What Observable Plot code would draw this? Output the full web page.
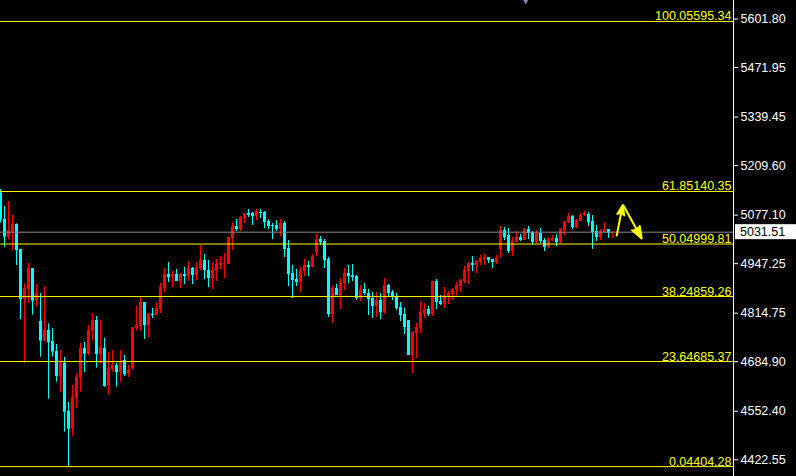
<!DOCTYPE html>
<html><head><meta charset="utf-8">
<script src="https://cdn.jsdelivr.net/npm/d3@7"></script>
<script src="https://cdn.jsdelivr.net/npm/@observablehq/plot@0.6"></script>
<style>html,body{margin:0;padding:0;background:#000;overflow:hidden}</style>
</head><body><div id="chart"></div>
<script>
const opens = [
5135.9,5065.4,5018.2,5031.5,5052.0,4985.2,4850.5,4878.2,4934.3,4846.9,
4792.5,4739.9,4768.5,4739.0,4712.3,4645.4,4681.1,4551.8,4504.5,4587.4,
4640.9,4720.3,4704.3,4766.7,4795.2,4704.3,4720.3,4619.5,4663.2,4674.8,
4656.1,4688.2,4650.8,4665.9,4773.8,4779.2,4843.4,4781.8,4811.3,4808.6,
4824.6,4880.8,4918.3,4910.3,4918.3,4899.6,4918.3,4912.9,4934.3,4915.6,
4934.3,4955.7,4929.0,4907.6,4926.3,4942.4,4945.0,4945.0,5014.6,5046.7,
5038.7,5068.1,5081.5,5081.5,5073.5,5084.2,5084.2,5060.1,5049.4,5049.4,
5038.7,5054.7,4987.8,4921.0,4904.9,4896.9,4926.3,4942.4,4937.0,4977.1,
5011.9,5006.6,4958.4,4811.3,4880.8,4862.1,4894.2,4921.0,4915.6,4912.9,
4854.1,4878.2,4867.5,4854.1,4832.7,4848.7,4816.6,4888.9,4870.1,4859.4,
4830.0,4811.3,4795.2,4701.6,4760.4,4773.8,4813.9,4824.6,4811.3,4899.6,
4846.1,4838.0,4859.4,4864.8,4875.5,4886.2,4899.6,4926.3,4947.7,4942.4,
4950.4,4958.4,4963.8,4958.4,4950.4,4985.2,5036.0,5022.6,4979.8,5003.9,
5017.3,5009.2,5038.7,5030.6,5003.9,5028.0,5009.2,4990.5,5009.2,5014.6,
5003.9,5036.0,5057.4,5073.5,5044.0,5060.1,5076.1,5078.8,5060.1,5033.3,
5017.3,5030.6,5038.7,5030.6];
const highs = [
5145.7,5100.2,5113.6,5076.1,5053.8,4985.2,4893.3,4947.7,4934.3,4891.5,
4867.5,4886.2,4786.3,4773.8,4731.0,4715.0,4696.2,4575.8,4621.3,4653.4,
4733.7,4736.4,4781.8,4813.9,4805.9,4795.2,4747.1,4709.6,4715.0,4681.1,
4715.0,4701.6,4674.8,4776.5,4832.7,4856.8,4843.4,4813.9,4827.3,4843.4,
4894.2,4934.3,4950.4,4926.3,4931.7,4921.0,4937.0,4953.1,4937.0,4950.4,
4995.9,4971.8,4955.7,4950.4,4958.4,4966.4,4974.5,5017.3,5054.7,5065.4,
5073.5,5081.5,5092.2,5084.2,5092.2,5092.2,5086.8,5065.4,5054.7,5062.8,
5065.4,5060.1,5009.2,4942.4,4931.7,4937.0,4958.4,4953.1,4971.8,5025.3,
5019.9,5011.9,4963.8,4888.9,4891.5,4907.6,4934.3,4942.4,4945.0,4915.6,
4888.9,4894.2,4878.2,4870.1,4870.1,4867.5,4907.6,4891.5,4875.5,4867.5,
4843.4,4827.3,4795.2,4765.8,4787.2,4846.1,4840.7,4832.7,4899.6,4904.9,
4862.1,4883.5,4872.8,4880.8,4896.9,4904.9,4939.7,4950.4,4966.4,4955.7,
4969.1,4971.8,4963.8,4958.4,4969.1,5046.7,5044.0,5041.3,5017.3,5033.3,
5025.3,5041.3,5046.7,5033.3,5036.0,5041.3,5014.6,5017.3,5022.6,5025.3,
5041.3,5060.1,5081.5,5076.1,5065.4,5081.5,5086.8,5084.2,5076.1,5049.4,
5038.7,5057.4,5038.7,5033.3];
const lows = [
5055.6,4991.4,5011.0,4980.7,4942.4,4797.9,4681.1,4841.6,4809.5,4830.9,
4697.1,4738.1,4584.8,4697.1,4630.2,4603.5,4496.5,4404.3,4485.8,4559.8,
4603.5,4656.1,4701.6,4741.7,4667.7,4678.4,4616.9,4595.5,4657.0,4616.9,
4630.2,4645.4,4642.7,4663.2,4766.7,4766.7,4744.4,4749.7,4800.6,4807.7,
4813.9,4870.1,4896.9,4883.5,4899.6,4880.8,4891.5,4899.6,4891.5,4902.2,
4929.0,4904.9,4883.5,4878.2,4899.6,4931.7,4907.6,4945.0,4982.5,5033.3,
5033.3,5054.7,5070.8,5049.4,5062.8,5068.1,5041.3,5038.7,5011.9,5033.3,
5019.9,4963.8,4886.2,4854.1,4886.2,4870.1,4912.9,4912.9,4937.0,4966.4,
4995.9,4934.3,4803.2,4787.2,4862.1,4824.6,4875.5,4894.2,4899.6,4848.7,
4846.1,4862.1,4808.6,4800.6,4803.2,4797.9,4811.3,4859.4,4848.7,4822.0,
4792.5,4757.8,4701.6,4653.4,4693.6,4760.4,4800.6,4805.9,4805.9,4824.6,
4835.3,4827.3,4838.0,4848.7,4862.1,4870.1,4894.2,4891.5,4926.3,4921.0,
4942.4,4942.4,4947.7,4934.3,4945.0,4961.1,5009.2,4974.5,4966.4,5003.9,
5006.6,5009.2,5011.9,4995.9,5001.2,5001.2,4979.8,4987.8,5006.6,4993.2,
5001.2,5022.6,5054.7,5038.7,5041.3,5060.1,5073.5,5046.7,4985.2,5006.6,
5009.2,5030.6,5014.6,5014.6];
const closes = [
5064.5,5018.2,5036.0,5052.0,4982.5,4850.5,4881.7,4934.3,4846.9,4867.5,
4739.9,4768.5,4736.4,4710.5,4645.4,4681.1,4550.0,4504.5,4589.2,4642.7,
4720.3,4705.2,4768.5,4795.2,4704.3,4720.3,4618.7,4666.8,4674.8,4656.1,
4683.8,4650.8,4661.5,4776.5,4781.8,4843.4,4781.8,4811.3,4808.6,4827.3,
4883.5,4918.3,4910.3,4918.3,4899.6,4918.3,4912.9,4934.3,4915.6,4937.0,
4955.7,4929.0,4907.6,4929.0,4945.0,4947.7,4947.7,5017.3,5046.7,5038.7,
5070.8,5081.5,5076.1,5073.5,5086.8,5081.5,5057.4,5046.7,5046.7,5038.7,
5054.7,4985.2,4918.3,4902.2,4896.9,4929.0,4942.4,4937.0,4966.4,5011.9,
5003.9,4955.7,4811.3,4880.8,4862.1,4896.9,4921.0,4912.9,4910.3,4854.1,
4878.2,4867.5,4851.4,4832.7,4848.7,4816.6,4888.9,4867.5,4859.4,4827.3,
4808.6,4776.5,4701.6,4763.1,4776.5,4816.6,4824.6,4811.3,4899.6,4843.4,
4838.0,4862.1,4867.5,4878.2,4888.9,4902.2,4929.0,4947.7,4942.4,4953.1,
4961.1,4963.8,4955.7,4950.4,4961.1,5036.0,5017.3,4979.8,5006.6,5017.3,
5009.2,5038.7,5028.0,5003.9,5028.0,5006.6,4990.5,5011.9,5014.6,5003.9,
5038.7,5060.1,5073.5,5044.0,5062.8,5076.1,5081.5,5057.4,5030.6,5017.3,
5033.3,5038.7,5028.0,5031.51];

const yTicks = [5601.80, 5471.95, 5339.45, 5209.60, 5077.10, 4947.25, 4814.75, 4684.90, 4552.40, 4422.55];
const fibLevels = [100.0, 61.8, 50.0, 38.2, 23.6, 0.0];
const fibPrices = [5595.34, 5140.35, 4999.81, 4859.26, 4685.37, 4404.28];
const lastPrice = 5031.51;
// hand-drawn arrows (bar index, price)
const arrowX1 = [154.05, 155.7];
const arrowY1 = [5022.6, 5103.4];
const arrowX2 = [155.55, 160.3];
const arrowY2 = [5103.4, 5014.6];
// chart-shift marker position (bar index)
const shiftMarkX = [131.3];

const xDomain = [0, 183.25];
const yDomain = [4377.87, 5651.32];
const UP = "#ff0000", DOWN = "#00ffff", FIB = "#ffff00";

const candles = opens.map((o, i) => ({i, o, h: highs[i], l: lows[i], c: closes[i], col: closes[i] >= o ? UP : DOWN}));
const fibs = fibLevels.map((lv, j) => ({p: fibPrices[j], label: lv.toFixed(1) + fibPrices[j].toFixed(2)}));
const arrows = arrowX1.map((x, j) => ({x1: x, y1: arrowY1[j], x2: arrowX2[j], y2: arrowY2[j]}));

const chart = Plot.plot({
  width: 796, height: 476,
  marginLeft: 0, marginRight: 63, marginTop: 0, marginBottom: 0,
  style: {background: "#000", color: "#fff", fontFamily: "Liberation Sans", fontSize: "12.5px"},
  x: {domain: xDomain, axis: null},
  y: {domain: yDomain, axis: "right", ticks: yTicks, tickFormat: d3.format(".2f"), tickSize: 4, tickPadding: 3, label: null},
  color: {type: "identity"},
  marks: [
    Plot.ruleX(candles, {x: "i", y1: "l", y2: "h", stroke: "col", strokeWidth: 1}),
    Plot.ruleX(candles, {x: "i", y1: "o", y2: "c", stroke: "col", strokeWidth: 3}),
    Plot.ruleY([lastPrice], {stroke: "#8c8c8c"}),
    Plot.ruleY(fibs, {y: "p", stroke: FIB}),
    Plot.text(fibs, {y: "p", text: "label", frameAnchor: "right", textAnchor: "end", lineAnchor: "bottom", dx: -2, dy: -1, fill: FIB}),
    Plot.arrow(arrows, {x1: "x1", y1: "y1", x2: "x2", y2: "y2", stroke: FIB, fill: FIB, strokeWidth: 2, headLength: 12, headAngle: 40, strokeLinejoin: "miter"}),
    Plot.dot(shiftMarkX, {x: d => d, frameAnchor: "top", symbol: "triangle", rotate: 180, r: 2.5, fill: "#7a8ca8", stroke: "none"}),
    Plot.ruleX([xDomain[1]], {stroke: "#fff"})
  ]
});

// current price tag on the right axis
const yS = chart.scale("y"), xS = chart.scale("x");
const yy = yS.apply(lastPrice), xr = xS.range[1];
const tag = d3.select(chart).append("g");
tag.append("rect").attr("x", xr + 2).attr("y", yy - 7.5).attr("width", 796 - xr - 2).attr("height", 15).attr("fill", "#fff");
tag.append("text").attr("x", xr + 7).attr("y", yy).attr("dy", "0.35em").attr("text-anchor", "start").attr("fill", "#000").text(lastPrice.toFixed(2));

document.getElementById("chart").appendChild(chart);
</script>
</body></html>
